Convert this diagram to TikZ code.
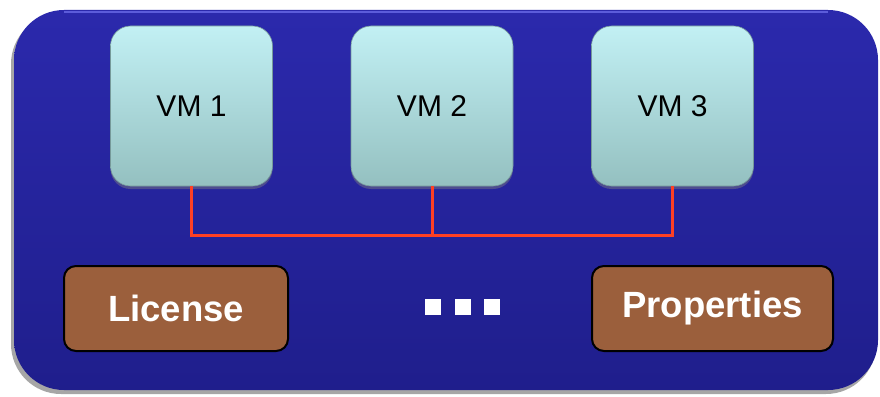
\documentclass[tikz,border=0pt]{standalone}
\usepackage{fontspec}
\setmainfont{Liberation Sans}
\usetikzlibrary{positioning,shadows}

\definecolor{panelTop}{HTML}{2B29AC}
\definecolor{panelBot}{HTML}{1F1E8C}
\definecolor{panelRim}{HTML}{5C5CDA}
\definecolor{vmTop}{HTML}{C2F0F4}
\definecolor{vmBot}{HTML}{94C0C0}
\definecolor{tagFill}{HTML}{9B5F3C}
\definecolor{busRed}{HTML}{FF4024}

\tikzset{
  vmbox/.style={rounded corners=20pt, minimum width=162pt, minimum height=160pt,
    top color=vmTop, bottom color=vmBot, draw=vmBot!80!black, line width=0.6pt,
    drop shadow={opacity=0.45, shadow xshift=0pt, shadow yshift=-3pt},
    font=\fontsize{30}{36}\selectfont, text=black, inner sep=0pt},
  tagbox/.style={rounded corners=12pt, minimum width=224pt, minimum height=85pt,
    fill=tagFill, draw=black, line width=2pt,
    font=\fontsize{36.5}{44}\selectfont\bfseries, text=white, inner sep=0pt},
  busline/.style={busRed, line width=3pt},
  dotsq/.style={fill=white, minimum size=16pt, inner sep=0pt}
}

\begin{document}
\begin{tikzpicture}[x=1pt,y=-1pt]
  \useasboundingbox (0,0) rectangle (880,396);
  % panel with shadow
  \fill[gray!70, rounded corners=50pt] (11,14) rectangle (876,394);
  \shade[rounded corners=50pt, top color=panelTop, bottom color=panelBot] (14,10) rectangle (878,390);
  \draw[panelRim, line width=2pt] (64,12) -- (828,12);

  % machines
  \node[vmbox] (vm1) at (191.5,106) {VM 1};
  \node[vmbox] (vm2) at (432,106) {VM 2};
  \node[vmbox] (vm3) at (672.5,106) {VM 3};

  % shared bus
  \coordinate (bus) at (432,235.5);
  \draw[busline] (vm1.south) |- (vm3.south |- bus) -- (vm3.south);
  \draw[busline] (vm2.south) -- (bus);

  % attached items
  \node[tagbox] (license) at (176,308.5) {License};
  \node[tagbox, minimum width=241pt] (props) at (712.5,308.5) {Properties};
  \node[dotsq] (dot1) at (433,307) {};
  \node[dotsq] (dot2) at (462.5,307) {};
  \node[dotsq] (dot3) at (492,307) {};
\end{tikzpicture}
\end{document}
